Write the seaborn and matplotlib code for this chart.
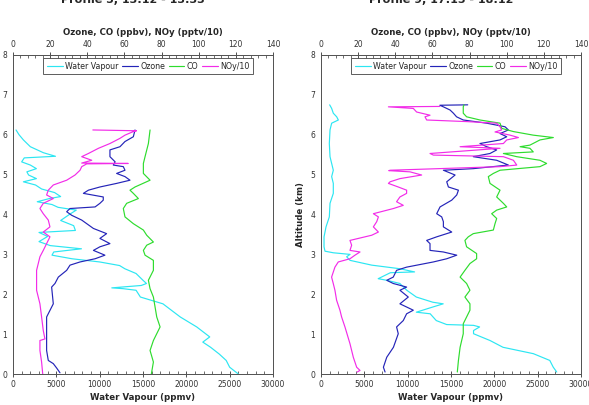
import matplotlib
matplotlib.use("Agg")
import matplotlib.pyplot as plt
from matplotlib.ticker import MultipleLocator
import seaborn as sns
import pandas as pd

sns.set_style("white")
plt.rcParams['font.family'] = ['DejaVu Sans']

# ---------------- data: Profile 5 (left) ----------------
l_wv_alt = [6.12, 6.0, 5.87, 5.70, 5.55, 5.46, 5.42, 5.32, 5.24, 5.15, 5.07, 4.99, 4.90, 4.82,
            4.74, 4.64, 4.55, 4.45, 4.40, 4.32, 4.25, 4.18, 4.11, 4.0, 3.85, 3.72, 3.60, 3.55,
            3.45, 3.32, 3.22, 3.14, 3.06, 2.98, 2.89, 2.81, 2.72, 2.64, 2.52, 2.35, 2.27, 2.22,
            2.16, 2.14, 2.10, 1.93, 1.76, 1.43, 1.18, 0.93, 0.80, 0.67, 0.50, 0.34, 0.17, 0.0]
l_wv = [350, 700, 1200, 2000, 3500, 4900, 1300, 1000, 2000, 2700, 1600, 1800, 2700, 1200,
        2600, 3300, 4800, 5500, 4200, 2800, 4500, 5200, 7300, 6500, 5500, 7000, 7200, 3000,
        4000, 3000, 4300, 7900, 4700, 4500, 6800, 10000, 12300, 12900, 14200, 15000, 15400, 14800,
        11400, 12700, 14200, 14700, 17300, 19300, 21200, 22700, 21900, 22800, 23800, 24600, 25000, 26000]

l_o3_alt = [6.12, 5.95, 5.83, 5.70, 5.62, 5.45, 5.32, 5.24, 5.20, 5.11, 5.03, 4.95, 4.86, 4.78,
            4.69, 4.61, 4.53, 4.44, 4.36, 4.28, 4.19, 4.15, 4.07, 3.98, 3.86, 3.77, 3.65, 3.52,
            3.40, 3.27, 3.19, 3.10, 2.98, 2.89, 2.81, 2.73, 2.60, 2.43, 2.27, 2.18, 1.76, 1.43,
            0.93, 0.59, 0.34, 0.26, 0.15, 0.03]
l_o3 = [65.7, 64.8, 60.3, 57.6, 52.2, 52.2, 55.0, 54.0, 59.4, 60.3, 55.8, 60.3, 63.0, 55.8,
        46.8, 40.6, 37.9, 48.6, 48.6, 46.8, 44.2, 30.7, 28.9, 31.6, 37.0, 39.7, 43.3, 50.4,
        46.8, 52.2, 46.8, 43.3, 49.5, 44.2, 36.1, 30.7, 28.9, 24.4, 22.6, 20.8, 21.7, 18.1,
        18.1, 18.1, 19.0, 21.7, 23.5, 25.3]

l_co_alt = [6.12, 5.78, 5.45, 5.28, 5.03, 4.86, 4.69, 4.61, 4.53, 4.40, 4.28, 4.15, 3.94, 3.77,
            3.61, 3.48, 3.31, 3.23, 3.10, 2.98, 2.85, 2.60, 2.35, 2.14, 1.93, 1.43, 1.18, 0.84,
            0.59, 0.30, 0.0]
l_co = [73.8, 72.9, 71.1, 70.2, 70.2, 73.8, 65.7, 63.0, 64.8, 67.5, 61.2, 59.4, 60.3, 64.8,
        70.2, 72.0, 75.6, 72.0, 70.2, 71.1, 75.6, 75.6, 72.9, 73.8, 75.6, 77.4, 79.2, 75.6,
        73.8, 75.6, 74.5]

l_noy_alt = [6.12, 6.10, 6.08, 5.99, 5.91, 5.78, 5.66, 5.53, 5.45, 5.36, 5.29, 5.28, 5.27, 5.20,
             5.11, 4.99, 4.86, 4.74, 4.61, 4.49, 4.40, 4.28, 4.15, 4.02, 3.86, 3.69, 3.56, 3.44,
             3.27, 3.10, 2.94, 2.60, 2.27, 2.10, 1.76, 1.43, 1.09, 0.88, 0.84, 0.59, 0.30, 0.0]
l_noy = [43.0, 66.5, 64.8, 60.3, 57.6, 52.2, 46.0, 40.6, 37.0, 42.4, 37.0, 62.0, 39.7, 37.0,
         36.1, 33.4, 28.9, 21.7, 19.0, 18.1, 21.7, 16.3, 14.5, 16.3, 19.0, 19.9, 16.3, 19.9,
         18.1, 16.3, 14.5, 12.7, 12.7, 12.7, 14.5, 15.4, 16.3, 17.2, 14.5, 14.5, 15.4, 16.0]

# ---------------- data: Profile 9 (right) ----------------
r_wv_alt = [6.75, 6.66, 6.54, 6.45, 6.37, 6.29, 6.12, 5.78, 5.45, 5.28, 5.11, 4.95, 4.78, 4.53,
            4.28, 3.94, 3.69, 3.44, 3.19, 3.08, 3.04, 3.00, 2.94, 2.85, 2.73, 2.64, 2.56, 2.54,
            2.39, 2.35, 2.27, 2.10, 1.93, 1.80, 1.76, 1.68, 1.55, 1.51, 1.34, 1.24, 1.22, 1.18,
            1.09, 1.01, 0.84, 0.67, 0.51, 0.34, 0.17, 0.05]
r_wv = [1000, 1230, 1420, 1810, 2000, 1230, 1040, 960, 1040, 1230, 1420, 1230, 1420, 1420,
        1040, 960, 580, 350, 350, 460, 1420, 3350, 2960, 3350, 5850, 9100, 10800, 8000,
        6600, 7600, 9100, 9900, 11000, 12900, 14100, 12900, 11000, 12600, 13300, 14500, 17600, 18300,
        17600, 17600, 19500, 21000, 24500, 26400, 26800, 27200]

r_o3_alt = [6.75, 6.74, 6.70, 6.62, 6.54, 6.45, 6.37, 6.29, 6.20, 6.12, 6.03, 5.95, 5.87, 5.78,
            5.70, 5.62, 5.53, 5.45, 5.36, 5.24, 5.15, 5.11, 4.99, 4.82, 4.69, 4.61, 4.49, 4.36,
            4.19, 4.02, 3.94, 3.82, 3.69, 3.56, 3.44, 3.35, 3.27, 3.10, 3.06, 2.98, 2.89, 2.81,
            2.68, 2.60, 2.43, 2.35, 2.27, 2.18, 2.10, 1.93, 1.76, 1.60, 1.51, 1.34, 1.18, 1.01,
            0.67, 0.42, 0.17, 0.05]
r_o3 = [79.0, 64.0, 65.9, 69.5, 71.3, 73.0, 76.6, 89.2, 99.1, 100.9, 96.4, 100.0, 96.4, 85.6,
        89.2, 94.6, 91.0, 82.0, 94.6, 100.9, 82.0, 65.9, 72.2, 67.7, 68.6, 74.0, 73.1, 70.4,
        64.1, 62.3, 65.0, 65.9, 65.9, 70.4, 62.3, 56.9, 58.7, 58.7, 65.9, 73.1, 67.7, 60.5,
        46.1, 40.7, 38.9, 35.4, 38.9, 46.1, 42.5, 47.0, 42.5, 49.7, 46.1, 44.3, 40.7, 41.6,
        39.0, 35.4, 33.6, 34.5]

r_co_alt = [6.75, 6.70, 6.54, 6.45, 6.37, 6.29, 6.16, 6.08, 5.99, 5.93, 5.87, 5.74, 5.70, 5.66,
            5.57, 5.53, 5.45, 5.36, 5.28, 5.20, 5.11, 5.03, 4.95, 4.78, 4.61, 4.44, 4.28, 4.19,
            4.11, 4.02, 3.90, 3.77, 3.61, 3.52, 3.44, 3.35, 3.19, 3.02, 2.89, 2.77, 2.60, 2.43,
            2.27, 2.10, 1.93, 1.76, 1.60, 1.43, 1.26, 1.18, 1.01, 0.67, 0.34, 0.05]
r_co = [77.0, 76.6, 76.6, 78.4, 85.6, 96.4, 97.3, 103.6, 114.3, 125.1, 117.9, 112.5, 107.2, 112.5,
        114.3, 98.2, 105.4, 117.9, 121.5, 117.9, 96.4, 92.8, 90.1, 91.0, 96.4, 94.6, 98.2, 100.0,
        94.6, 91.9, 94.6, 93.7, 92.8, 82.0, 79.3, 77.5, 78.4, 83.8, 83.8, 80.2, 77.5, 74.9,
        78.4, 80.2, 77.5, 80.2, 80.2, 78.4, 76.6, 76.6, 76.6, 74.9, 74.0, 73.4]

r_noy_alt = [6.71, 6.70, 6.66, 6.57, 6.49, 6.45, 6.37, 6.33, 6.29, 6.20, 6.12, 6.07, 5.99, 5.93,
             5.87, 5.78, 5.70, 5.66, 5.53, 5.49, 5.45, 5.36, 5.24, 5.20, 5.11, 5.10, 5.07, 4.99,
             4.90, 4.82, 4.78, 4.69, 4.61, 4.53, 4.44, 4.32, 4.23, 4.15, 4.02, 3.94, 3.82, 3.69,
             3.56, 3.48, 3.35, 3.23, 3.10, 3.06, 2.98, 2.89, 2.81, 2.68, 2.43, 2.27, 2.10, 1.85,
             1.60, 1.43, 1.18, 0.76, 0.42, 0.17, 0.09, 0.05]
r_noy = [64.0, 36.3, 49.7, 51.5, 58.7, 56.0, 56.9, 78.4, 94.6, 96.4, 97.3, 93.7, 101.8, 106.3,
         100.0, 98.2, 74.9, 96.4, 58.7, 60.5, 98.2, 103.6, 105.4, 96.4, 37.2, 36.5, 47.9, 54.2,
         42.5, 37.2, 36.3, 41.6, 46.1, 46.1, 42.5, 40.7, 44.3, 39.0, 28.2, 30.9, 30.0, 28.2,
         30.9, 27.3, 15.6, 16.5, 15.6, 21.0, 18.3, 15.6, 9.3, 7.5, 5.7, 6.6, 7.5, 8.4,
         10.2, 11.1, 12.9, 15.6, 17.4, 19.2, 21.0, 19.5]

titles = ["Profile 5, 13:12 - 13:33", "Profile 9, 17:15 - 18:12"]
top_label = "Ozone, CO (ppbv), NOy (pptv/10)"
bottom_label = "Water Vapour (ppmv)"
y_label = "Altitude (km)"
series_names = ["Water Vapour", "Ozone", "CO", "NOy/10"]
colors = ["#2CE6F2", "#2424B8", "#2EDC2E", "#F22CE8"]

panels = [
    (l_wv_alt, l_wv, l_o3_alt, l_o3, l_co_alt, l_co, l_noy_alt, l_noy),
    (r_wv_alt, r_wv, r_o3_alt, r_o3, r_co_alt, r_co, r_noy_alt, r_noy),
]

W, H = 589, 405
fig = plt.figure(figsize=(W / 100, H / 100), dpi=100)
fig.patch.set_facecolor("white")

axes_px = [(13, 55, 260, 319), (321, 55, 260, 319)]
tick_col = "#333333"

for i, (px, data) in enumerate(zip(axes_px, panels)):
    x0, y0, w, h = px
    ax = fig.add_axes([x0 / W, 1 - (y0 + h) / H, w / W, h / H])
    ax2 = ax.twiny()
    wv_alt, wv, o3_alt, o3, co_alt, co, noy_alt, noy = data

    sns.lineplot(x=wv, y=wv_alt, sort=False, estimator=None, ax=ax,
                 color=colors[0], lw=0.85, label=series_names[0], legend=False)
    for (a, v), c, n in zip([(o3_alt, o3), (co_alt, co), (noy_alt, noy)],
                            colors[1:], series_names[1:]):
        sns.lineplot(x=v, y=a, sort=False, estimator=None, ax=ax2,
                     color=c, lw=0.85, label=n, legend=False)

    ax.set_xlim(0, 30000)
    ax.set_ylim(0, 8)
    ax2.set_xlim(0, 140)
    ax.xaxis.set_major_locator(MultipleLocator(5000))
    ax.xaxis.set_minor_locator(MultipleLocator(1000))
    ax.yaxis.set_major_locator(MultipleLocator(1))
    ax.yaxis.set_minor_locator(MultipleLocator(0.2))
    ax2.xaxis.set_major_locator(MultipleLocator(20))
    ax2.xaxis.set_minor_locator(MultipleLocator(4))

    for a in (ax, ax2):
        a.tick_params(which="major", direction="inout", length=4, width=0.6,
                      colors=tick_col, labelsize=5.5, pad=2)
        a.tick_params(which="minor", direction="in", length=2, width=0.5, colors=tick_col)
        for s in a.spines.values():
            s.set_color("#555555")
            s.set_linewidth(0.7)
    ax.tick_params(axis="y", which="both", right=False)
    ax.tick_params(axis="x", which="both", top=False)

    ax.set_xlabel(bottom_label, fontsize=6.2, fontweight="bold", labelpad=3)
    ax2.set_xlabel(top_label, fontsize=6.2, fontweight="bold", labelpad=4)
    if i == 1:
        ax.set_ylabel(y_label, fontsize=6.2, fontweight="bold", labelpad=4)
    else:
        ax.set_ylabel("")

    handles = ax.get_lines()[:1] + ax2.get_lines()[:3]
    leg = ax2.legend(handles, series_names, loc="upper center",
                     bbox_to_anchor=(0.52, 0.995), ncol=4, frameon=True,
                     fancybox=False, edgecolor="#333333", fontsize=5.7,
                     handlelength=2.0, handletextpad=0.3, columnspacing=0.45,
                     borderpad=0.45, borderaxespad=0.2)
    leg.get_frame().set_linewidth(0.7)

    fig.text((x0 + w / 2 - 10) / W, 1.0, titles[i], ha="center", va="center",
             fontsize=8, fontweight="bold")

fig.savefig("out.png", dpi=100, facecolor="white")
